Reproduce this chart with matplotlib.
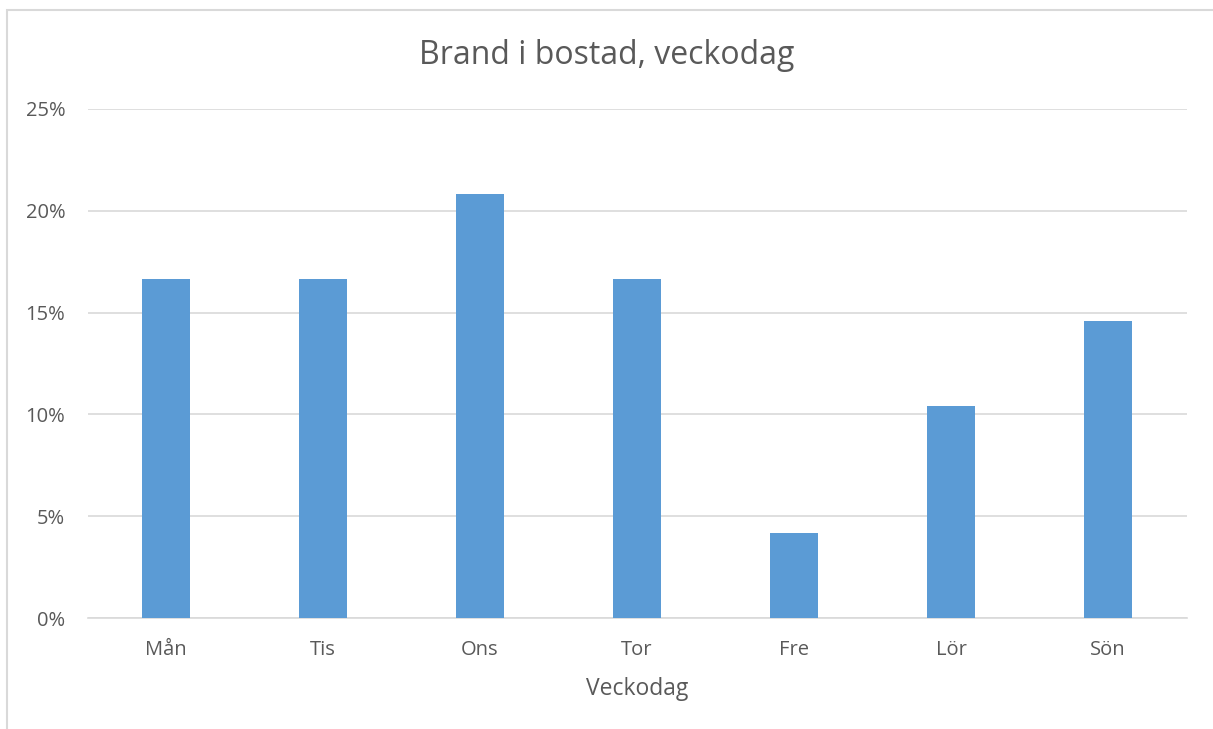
"""Brand i bostad per veckodag, stapeldiagram."""

import matplotlib.pyplot as plt
from matplotlib.patches import Rectangle
from matplotlib.ticker import FuncFormatter, MultipleLocator

days = ["Mån", "Tis", "Ons", "Tor", "Fre", "Lör", "Sön"]
shares = [16.67, 16.67, 20.83, 16.67, 4.17, 10.42, 14.58]

TEXT = "#595959"
BAR = "#5B9BD5"
GRID = "#D9D9D9"

plt.rcParams["font.family"] = ["Open Sans", "DejaVu Sans"]

fig = plt.figure(figsize=(12.13, 7.29), dpi=100)
fig.patches.append(Rectangle((7 / 1213, -0.1), 1.2, 1 - 10 / 729 + 0.1,
                             transform=fig.transFigure, fill=False,
                             edgecolor="#D9D9D9", linewidth=1.5))

ax = fig.add_axes([87.5 / 1213, 111 / 729, 1099 / 1213, 509 / 729])
x = range(len(days))
ax.bar(x, shares, width=0.31, color=BAR, zorder=3)

ax.set_xlim(-0.5, len(days) - 0.5)
ax.set_ylim(0, 25)
ax.yaxis.set_major_locator(MultipleLocator(5))
ax.yaxis.set_major_formatter(FuncFormatter(lambda v, _: f"{v:.0f}%"))
ax.set_xticks(list(x))
ax.set_xticklabels(days)
ax.grid(axis="y", color=GRID, linewidth=1.2, zorder=0)
for side in ("top", "right", "left"):
    ax.spines[side].set_visible(False)
ax.spines["bottom"].set_color(GRID)
ax.spines["bottom"].set_linewidth(1.2)
ax.tick_params(axis="both", length=0, labelsize=14.5, labelcolor=TEXT)
ax.tick_params(axis="x", pad=16)
ax.tick_params(axis="y", pad=16)

ax.set_xlabel("Veckodag", fontsize=16.5, color=TEXT, labelpad=12)
fig.text(0.5, 1 - 56 / 729, "Brand i bostad, veckodag", ha="center",
         va="center", fontsize=23, color=TEXT)

fig.savefig("out.png", dpi=100)
